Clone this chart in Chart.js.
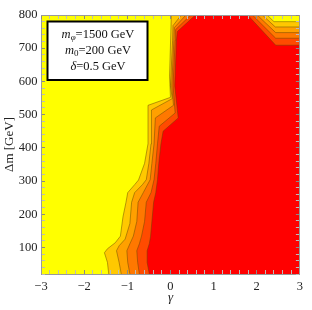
<!DOCTYPE html>
<html>
<head>
<meta charset="utf-8">
<script src="https://cdn.jsdelivr.net/npm/chart.js@4.4.0/dist/chart.umd.min.js"></script>
<style>
html,body{margin:0;padding:0;background:#fff;}
#wrap{position:relative;width:312px;height:310px;}
</style>
</head>
<body>
<div id="wrap"><canvas id="c" width="312" height="310"></canvas></div>
<script>
// ---------- DATA ----------
const gammaRange = [-3, 3];
const dmRange = [20, 800];
const xTickLabels = [-3, -2, -1, 0, 1, 2, 3];
const yTickLabels = [100, 200, 300, 400, 500, 600, 700, 800];

// contour boundaries between successive levels, bottom -> top edge: [γ, Δm]
const contour1 = [[-1.43,20],[-1.46,55],[-1.53,84],[-1.46,96],[-1.28,114],[-1.16,134],[-1.10,192],[-1.03,236],[-0.99,265],[-0.83,289],[-0.74,303],[-0.60,353],[-0.52,412],[-0.52,528],[0.00,552],[-0.02,616],[0.02,800]];
const contour2 = [[-1.14,20],[-1.19,55],[-1.25,90],[-1.19,105],[-1.05,125],[-0.94,172],[-0.90,236],[-0.83,265],[-0.65,289],[-0.56,304],[-0.50,353],[-0.45,412],[-0.44,514],[0.04,548],[0.00,587],[0.05,724],[0.06,768],[0.25,800]];
const contour3 = [[-0.94,20],[-0.99,55],[-1.01,90],[-0.94,111],[-0.86,134],[-0.78,178],[-0.75,236],[-0.63,265],[-0.47,304],[-0.43,353],[-0.38,412],[-0.35,490],[0.07,528],[0.03,587],[0.08,724],[0.09,762],[0.36,800]];
const contour4 = [[-0.72,20],[-0.76,55],[-0.78,90],[-0.72,111],[-0.67,134],[-0.60,178],[-0.56,236],[-0.45,265],[-0.38,304],[-0.34,353],[-0.30,412],[-0.26,465],[0.11,505],[0.06,587],[0.11,724],[0.12,756],[0.47,800]];
const contour5 = [[-0.49,20],[-0.54,55],[-0.54,90],[-0.49,111],[-0.46,134],[-0.43,178],[-0.39,236],[-0.34,265],[-0.30,304],[-0.27,353],[-0.22,412],[-0.17,450],[0.18,490],[0.10,587],[0.14,724],[0.16,750],[0.58,800]];

// upper-right contours, top edge -> right edge: [γ, Δm]
const corner1 = [[2.24,800],[2.40,780],[3,780]];
const corner2 = [[2.13,800],[2.43,764],[3,764]];
const corner3 = [[2.01,800],[2.44,747],[3,747]];
const corner4 = [[1.90,800],[2.44,730],[3,730]];
const corner5 = [[1.79,800],[2.44,709],[3,709]];

const baseColor = '#FFFF00';
const levelColors = ['#FFC800', '#FFA000', '#FF7800', '#FF4B00', '#FF0000'];

const paramLines = [
  [{t:'m', it:true}, {t:'\u03C6', it:true, sub:true}, {t:'=1500 GeV'}],
  [{t:'m', it:true}, {t:'0', sub:true}, {t:'=200 GeV'}],
  [{t:'\u03B4', it:true}, {t:'=0.5 GeV'}]
];
const xTitle = '\u03B3';
const yTitle = '\u0394m [GeV]';

// ---------- BUILD ----------
const contours = [contour1, contour2, contour3, contour4, contour5];
const corners = [corner1, corner2, corner3, corner4, corner5];
const toXY = arr => arr.map(p => ({x: p[0], y: p[1]}));
const lineColor = 'rgba(100,70,0,0.6)';

const datasets = [];
contours.forEach((c, i) => {
  datasets.push({data: toXY(c), showLine: true, fill: false, pointRadius: 0, borderWidth: 0.8,
    borderColor: lineColor, order: i});
  datasets.push({data: toXY(corners[i]), showLine: true, fill: false, pointRadius: 0, borderWidth: 0.8,
    borderColor: lineColor, order: i});
});
contours.forEach((c, i) => {
  const poly = [[gammaRange[0], dmRange[0]]].concat(c, corners[i], [[gammaRange[1], dmRange[0]]]);
  datasets.push({data: toXY(poly), showLine: true, fill: 'shape', pointRadius: 0, borderWidth: 0,
    borderColor: 'rgba(0,0,0,0)', backgroundColor: levelColors[i], order: 20 - i});
});

const serif = "'Liberation Serif', 'DejaVu Serif', serif";
const minus = v => (v < 0 ? '\u2212' + Math.abs(v) : String(v));

const bgPlugin = {
  id: 'bg',
  beforeDatasetsDraw(chart) {
    const {ctx, chartArea: a} = chart;
    ctx.save();
    ctx.fillStyle = baseColor;
    ctx.fillRect(a.left, a.top, a.right - a.left, a.bottom - a.top);
    ctx.restore();
  }
};

const boxPlugin = {
  id: 'paramBox',
  afterDraw(chart) {
    const {ctx, chartArea: a} = chart;
    const bx = a.left + 6.5, by = a.top + 6.5, bw = 100, bh = 58.5;
    ctx.save();
    ctx.fillStyle = '#fff';
    ctx.fillRect(bx, by, bw, bh);
    ctx.lineWidth = 2;
    ctx.strokeStyle = '#000';
    ctx.strokeRect(bx, by, bw, bh);
    const cx = bx + bw / 2 + 0.5;
    const fontFor = p => (p.it ? 'italic ' : '') + (p.sub ? '9px ' : '12.5px ') + serif;
    ctx.textBaseline = 'middle';
    ctx.fillStyle = '#111';
    paramLines.forEach((parts, i) => {
      const y = by + 13.5 + i * 15.8;
      const widths = parts.map(p => { ctx.font = fontFor(p); return ctx.measureText(p.t).width; });
      const total = widths.reduce((s, w) => s + w, 0);
      let x = cx - total / 2;
      parts.forEach((p, j) => {
        ctx.font = fontFor(p);
        ctx.fillText(p.t, x, y + (p.sub ? 3 : 0));
        x += widths[j];
      });
    });
    ctx.restore();
  }
};

const tickCol = (major) => (ctx) => (ctx.tick && major(ctx.tick.value) ? '#888' : '#bbb');
const isXMajor = v => xTickLabels.includes(v);
const isYMajor = v => yTickLabels.includes(v);

new Chart(document.getElementById('c'), {
  type: 'scatter',
  data: {datasets},
  options: {
    responsive: false,
    animation: false,
    devicePixelRatio: 1,
    layout: {padding: {top: 7, right: 3, left: 0, bottom: 0}},
    plugins: {legend: {display: false}, tooltip: {enabled: false}},
    scales: {
      x: {
        type: 'linear', position: 'bottom', min: gammaRange[0], max: gammaRange[1],
        afterFit: s => { s.height = 36; },
        ticks: {stepSize: 0.2, autoSkip: false, maxRotation: 0, minRotation: 0, padding: 9,
          font: {family: serif, size: 12.5}, color: '#222',
          callback: v => (isXMajor(v) ? minus(v) : '')},
        grid: {drawOnChartArea: false, drawTicks: true, tickLength: -4, tickColor: tickCol(isXMajor), tickWidth: 1, z: 1},
        border: {display: true, color: '#999', width: 1, z: 1},
        title: {display: true, text: xTitle, color: '#222', font: {family: serif, size: 13, style: 'italic'}, padding: {top: 0, bottom: 5}}
      },
      y: {
        type: 'linear', position: 'left', min: dmRange[0], max: dmRange[1],
        afterFit: s => { s.width = 41; },
        ticks: {stepSize: 20, includeBounds: false, autoSkip: false, padding: 7.5,
          font: {family: serif, size: 12.5}, color: '#222',
          callback: v => (isYMajor(v) ? String(v) : '')},
        grid: {drawOnChartArea: false, drawTicks: true, tickLength: -4, tickColor: tickCol(isYMajor), tickWidth: 1, z: 1},
        border: {display: true, color: '#999', width: 1, z: 1},
        title: {display: true, text: yTitle, color: '#222', font: {family: serif, size: 13}, padding: {top: 2, bottom: 0}}
      },
      x2: {
        type: 'linear', position: 'top', min: gammaRange[0], max: gammaRange[1],
        afterFit: s => { s.height = 0; },
        ticks: {stepSize: 0.2, autoSkip: false, maxRotation: 0, callback: () => ''},
        grid: {drawOnChartArea: false, drawTicks: true, tickLength: -4, tickColor: tickCol(isXMajor), z: 1},
        border: {display: true, color: '#999', width: 1, z: 1}
      },
      y2: {
        type: 'linear', position: 'right', min: dmRange[0], max: dmRange[1],
        afterFit: s => { s.width = 0; },
        ticks: {stepSize: 20, includeBounds: false, autoSkip: false, callback: () => ''},
        grid: {drawOnChartArea: false, drawTicks: true, tickLength: -4, tickColor: tickCol(isYMajor), z: 1},
        border: {display: true, color: '#999', width: 1, z: 1}
      }
    }
  },
  plugins: [bgPlugin, boxPlugin]
});
</script>
</body>
</html>
